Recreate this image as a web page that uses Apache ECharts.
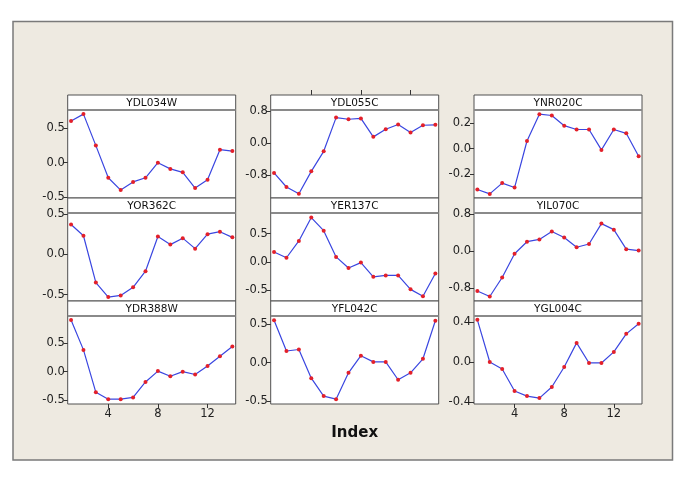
<!DOCTYPE html>
<html>
<head>
<meta charset="utf-8">
<script src="https://cdn.jsdelivr.net/npm/echarts@6/dist/echarts.min.js"></script>
<style>
html,body{margin:0;padding:0;background:#fff;}
#chart{width:685px;height:481px;}
</style>
</head>
<body>
<div id="chart"></div>
<script>
// ---- data ----
const indexValues = [1,2,3,4,5,6,7,8,9,10,11,12,13,14];
const panelNames = ['YDL034W','YDL055C','YNR020C','YOR362C','YER137C','YIL070C','YDR388W','YFL042C','YGL004C'];
const YDL034W = [0.61,0.71,0.25,-0.22,-0.40,-0.28,-0.22,0.00,-0.09,-0.14,-0.37,-0.25,0.19,0.17];
const YDL055C = [-0.75,-1.10,-1.27,-0.71,-0.21,0.63,0.59,0.61,0.15,0.34,0.46,0.26,0.44,0.45];
const YNR020C = [-0.32,-0.355,-0.27,-0.305,0.06,0.27,0.26,0.18,0.15,0.15,-0.01,0.15,0.12,-0.06];
const YOR362C = [0.37,0.23,-0.35,-0.53,-0.51,-0.41,-0.21,0.22,0.12,0.20,0.07,0.25,0.28,0.21];
const YER137C = [0.175,0.075,0.37,0.78,0.55,0.09,-0.105,-0.01,-0.26,-0.235,-0.235,-0.48,-0.60,-0.20];
const YIL070C = [-0.86,-0.98,-0.57,-0.06,0.20,0.25,0.42,0.29,0.08,0.15,0.59,0.46,0.04,0.01];
const YDR388W = [0.90,0.38,-0.36,-0.48,-0.48,-0.45,-0.18,0.01,-0.08,0.00,-0.05,0.10,0.27,0.44];
const YFL042C = [0.545,0.15,0.17,-0.20,-0.43,-0.47,-0.13,0.09,0.01,0.01,-0.22,-0.13,0.05,0.54];
const YGL004C = [0.42,0.00,-0.07,-0.29,-0.34,-0.36,-0.25,-0.05,0.19,-0.01,-0.01,0.10,0.28,0.38];
const panelValues = [YDL034W,YDL055C,YNR020C,YOR362C,YER137C,YIL070C,YDR388W,YFL042C,YGL004C];
const yTickValues = [[-0.5,0,0.5],[-0.8,0,0.8],[-0.2,0,0.2],[-0.5,0,0.5],[-0.5,0,0.5],[-0.8,0,0.8],[-0.5,0,0.5],[-0.5,0,0.5],[-0.4,0,0.4]];
const yMins = [-0.515,-1.374,-0.387,-0.579,-0.684,-1.076,-0.564,-0.532,-0.419];
const yMaxs = [0.77,0.82,0.303,0.512,0.86,0.818,0.971,0.601,0.458];
const xTickValues = [4,8,12];
const xMin = 0.73, xMax = 14.27;
const xTitle = 'Index';

// ---- layout ----
const colLeft = [67.7, 270.7, 474];
const rowTop = [95, 198, 301];
const panelW = 168, stripH = 15, plotH = 88;
const FONT = 'DejaVu Sans';

const grids = [], xAxes = [], yAxes = [], series = [], graphics = [];
graphics.push({type:'rect', z:-100, shape:{x:13, y:21.5, width:659.5, height:438.5},
  style:{fill:'#EEEAE1', stroke:'#7a7a7a', lineWidth:1.5}});

panelNames.forEach((name, i) => {
  const r = Math.floor(i/3), c = i%3;
  const top = rowTop[r] + stripH;
  grids.push({left:colLeft[c], top:top, width:panelW, height:plotH, show:true,
    backgroundColor:'#ffffff', borderColor:'#505050', borderWidth:1});
  const showBottom = (r === 2 && c !== 1);
  xAxes.push({type:'value', gridIndex:i, min:xMin, max:xMax, position:'bottom',
    axisLine:{show:false, onZero:false}, splitLine:{show:false},
    axisTick:{show:showBottom, customValues:xTickValues, length:4, lineStyle:{color:'#333'}},
    axisLabel:{show:showBottom, customValues:xTickValues, fontFamily:FONT, fontSize:11.5, color:'#222', margin:4}});
  yAxes.push({type:'value', gridIndex:i, min:yMins[i], max:yMaxs[i],
    axisLine:{show:false, onZero:false}, splitLine:{show:false},
    axisTick:{show:true, customValues:yTickValues[i], length:4, lineStyle:{color:'#333'}},
    axisLabel:{show:true, customValues:yTickValues[i], fontFamily:FONT, fontSize:11.5, color:'#222', margin:3,
      formatter:v => Number(v).toFixed(1)}});
  series.push({type:'line', xAxisIndex:i, yAxisIndex:i,
    data:indexValues.map((x,k)=>[x, panelValues[i][k]]),
    symbol:'circle', symbolSize:4, showSymbol:true,
    lineStyle:{color:'#3a46e0', width:1.2},
    itemStyle:{color:'#e3202a', borderWidth:0},
    emphasis:{disabled:true}, animation:false});
  // strip
  graphics.push({type:'rect', z:100, shape:{x:colLeft[c], y:rowTop[r], width:panelW, height:stripH},
    style:{fill:'#ffffff', stroke:'#505050', lineWidth:1}});
  graphics.push({type:'line', z:101, shape:{x1:colLeft[c], y1:rowTop[r]+stripH, x2:colLeft[c]+panelW, y2:rowTop[r]+stripH},
    style:{stroke:'#8a8a8a', lineWidth:2}});
  graphics.push({type:'text', z:102, x:colLeft[c]+panelW/2, y:rowTop[r]+stripH/2+0.5,
    style:{text:name, fontFamily:FONT, fontSize:10.5, fill:'#111', align:'center', verticalAlign:'middle'}});
});

// top ticks for middle column (top row)
xAxes.push({type:'value', gridIndex:1, min:xMin, max:xMax, position:'top', offset:stripH,
  axisLine:{show:false, onZero:false}, splitLine:{show:false},
  axisTick:{show:true, customValues:xTickValues, length:5, lineStyle:{color:'#333'}},
  axisLabel:{show:false}});

graphics.push({type:'text', z:102, x:colLeft[1]+panelW/2, y:433,
  style:{text:xTitle, fontFamily:FONT, fontSize:15, fontWeight:'bold', fill:'#111', align:'center', verticalAlign:'middle'}});

const chart = echarts.init(document.getElementById('chart'), null, {renderer:'canvas'});
chart.setOption({
  backgroundColor:'#ffffff',
  animation:false,
  grid:grids, xAxis:xAxes, yAxis:yAxes, series:series, graphic:graphics
});
</script>
</body>
</html>
